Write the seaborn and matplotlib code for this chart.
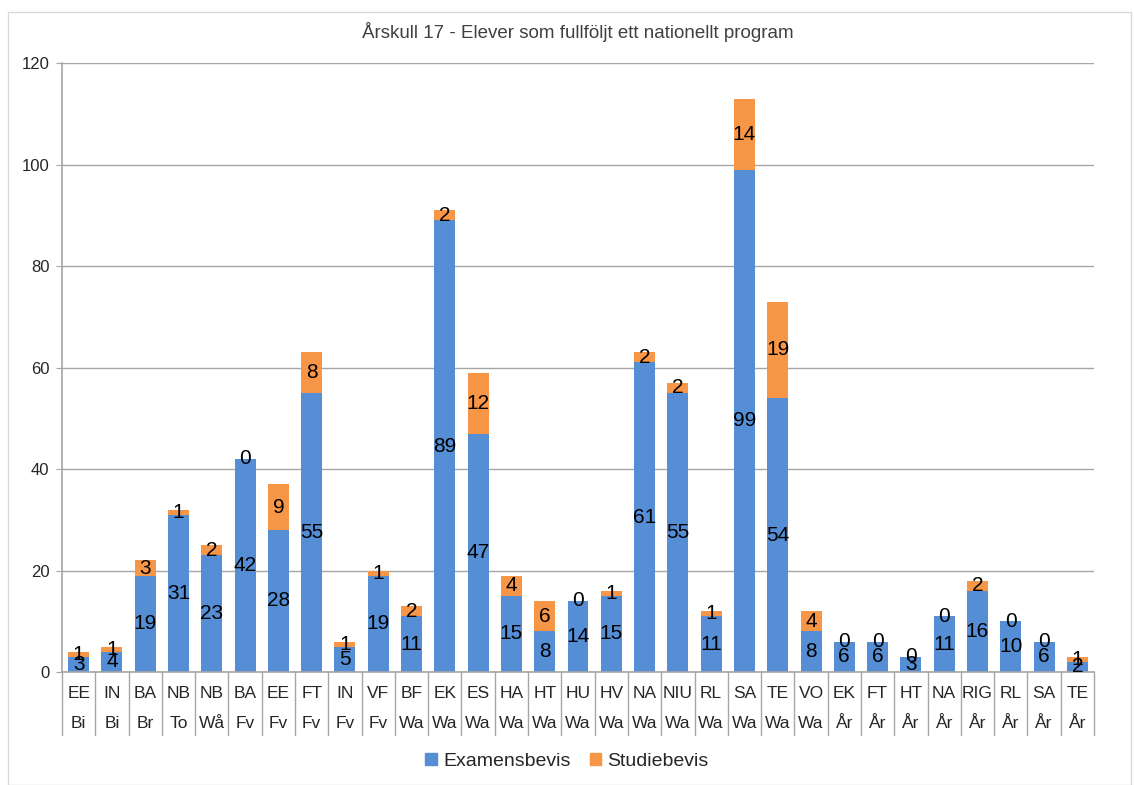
import numpy as np
import pandas as pd
import matplotlib.pyplot as plt
import matplotlib.transforms as mtransforms
from matplotlib.patches import Rectangle, Patch
import seaborn as sns

# program / skola och antal elever
program = ['EE', 'IN', 'BA', 'NB', 'NB', 'BA', 'EE', 'FT', 'IN', 'VF', 'BF', 'EK', 'ES', 'HA',
           'HT', 'HU', 'HV', 'NA', 'NIU', 'RL', 'SA', 'TE', 'VO', 'EK', 'FT', 'HT', 'NA', 'RIG',
           'RL', 'SA', 'TE']
skola = ['Bi', 'Bi', 'Br', 'To', 'Wå', 'Fv', 'Fv', 'Fv', 'Fv', 'Fv', 'Wa', 'Wa', 'Wa', 'Wa',
         'Wa', 'Wa', 'Wa', 'Wa', 'Wa', 'Wa', 'Wa', 'Wa', 'Wa', 'År', 'År', 'År', 'År', 'År',
         'År', 'År', 'År']
examensbevis = [3, 4, 19, 31, 23, 42, 28, 55, 5, 19, 11, 89, 47, 15, 8, 14, 15, 61, 55, 11, 99,
                54, 8, 6, 6, 3, 11, 16, 10, 6, 2]
studiebevis = [1, 1, 3, 1, 2, 0, 9, 8, 1, 1, 2, 2, 12, 4, 6, 0, 1, 2, 2, 1, 14, 19, 4, 0, 0, 0,
               0, 2, 0, 0, 1]

BLUE = '#558ED5'
ORANGE = '#F79646'
GRID = '#A6A6A6'

df = pd.DataFrame({'program': program, 'skola': skola,
                   'Examensbevis': examensbevis, 'Studiebevis': studiebevis})
df['kat'] = df['program'] + ' ' + df['skola'] + ' ' + df.index.astype(str)
df['total'] = df['Examensbevis'] + df['Studiebevis']

sns.set_style('white')
plt.rcParams['font.family'] = ['Liberation Sans', 'DejaVu Sans']

fig = plt.figure(figsize=(11.34, 7.85), dpi=100)
ax = fig.add_axes([0.0547, 0.1439, 0.9100, 0.7758])

sns.barplot(data=df, x='kat', y='total', color=ORANGE, width=0.63, saturation=1,
            linewidth=0, ax=ax)
sns.barplot(data=df, x='kat', y='Examensbevis', color=BLUE, width=0.63, saturation=1,
            linewidth=0, ax=ax)

# etiketter i varje segment
exam_bars = ax.patches[len(df):]
for i, pb in enumerate(exam_bars):
    xc = pb.get_x() + pb.get_width() / 2
    e = df['Examensbevis'][i]
    s = df['Studiebevis'][i]
    ax.text(xc, e / 2, str(e), ha='center', va='center', fontsize=15, color='black')
    ax.text(xc, e + s / 2, str(s), ha='center', va='center', fontsize=15, color='black')

n = len(df)
ax.set_xlim(-0.5, n - 0.5)
ax.set_ylim(0, 120)
ax.set_yticks(np.arange(0, 121, 20))
ax.tick_params(axis='y', labelsize=12, length=4, color=GRID, direction='out', pad=5)
ax.yaxis.grid(True, color=GRID, linewidth=1)
ax.set_axisbelow(True)
ax.set_xticks([])
ax.set_xlabel('')
ax.set_ylabel('')
for side in ['top', 'right']:
    ax.spines[side].set_visible(False)
for side in ['left', 'bottom']:
    ax.spines[side].set_color(GRID)
    ax.spines[side].set_linewidth(1.2)
ax.tick_params(axis='y', left=True)

# tvåradiga kategorietiketter med avdelare
trans = mtransforms.blended_transform_factory(ax.transData, ax.transAxes)
for i in range(n):
    ax.text(i, -0.035, program[i], transform=trans, ha='center', va='center',
            fontsize=12.5, clip_on=False)
    ax.text(i, -0.085, skola[i], transform=trans, ha='center', va='center',
            fontsize=12.5, clip_on=False)
for i in range(n + 1):
    ax.plot([i - 0.5, i - 0.5], [0, -0.103], transform=trans, color=GRID,
            linewidth=1, clip_on=False)

ax.set_title('Årskull 17 - Elever som fullföljt ett nationellt program',
             fontsize=13.5, color='#404040', pad=18)

handles = [Patch(color=BLUE, label='Examensbevis'), Patch(color=ORANGE, label='Studiebevis')]
fig.legend(handles=handles, loc='center', bbox_to_anchor=(0.5, 0.03), ncol=2,
           frameon=False, fontsize=14, handlelength=0.6, handleheight=0.6,
           columnspacing=1.0, handletextpad=0.3)

fig.patches.append(Rectangle((0.007, 0.0), 0.99, 0.985, transform=fig.transFigure,
                             fill=False, edgecolor='#D9D9D9', linewidth=1))

fig.savefig('out.png', dpi=100)
